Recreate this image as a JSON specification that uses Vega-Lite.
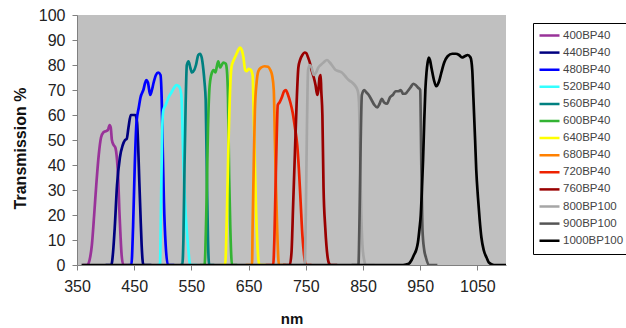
{
"$schema": "https://vega.github.io/schema/vega-lite/v6.json",
"width": 429, "height": 250,
"autosize": {"type": "none"},
"padding": {"left": 77, "top": 15, "right": 120, "bottom": 63},
"background": "white",
"config": {"view": {"fill": "#c0c0c0", "stroke": null}, "font": "Liberation Sans"},
"data": {"values": [
{"s":"400BP40","nm":360,"t":0},{"s":"400BP40","nm":368,"t":0},{"s":"400BP40","nm":372,"t":2},{"s":"400BP40","nm":376,"t":8},{"s":"400BP40","nm":380,"t":20},{"s":"400BP40","nm":384,"t":33},{"s":"400BP40","nm":388,"t":44},{"s":"400BP40","nm":392,"t":51},{"s":"400BP40","nm":396,"t":53},{"s":"400BP40","nm":400,"t":53.5},{"s":"400BP40","nm":404,"t":54},{"s":"400BP40","nm":407,"t":56},{"s":"400BP40","nm":409,"t":55},{"s":"400BP40","nm":411,"t":50},{"s":"400BP40","nm":414,"t":48},{"s":"400BP40","nm":417,"t":47},{"s":"400BP40","nm":420,"t":42},{"s":"400BP40","nm":422,"t":35},{"s":"400BP40","nm":424,"t":22},{"s":"400BP40","nm":426,"t":12},{"s":"400BP40","nm":428,"t":4},{"s":"400BP40","nm":431,"t":0},{"s":"400BP40","nm":440,"t":0},
{"s":"440BP40","nm":400,"t":0},{"s":"440BP40","nm":410,"t":0},{"s":"440BP40","nm":413,"t":5},{"s":"440BP40","nm":416,"t":15},{"s":"440BP40","nm":420,"t":32},{"s":"440BP40","nm":425,"t":43},{"s":"440BP40","nm":430,"t":48},{"s":"440BP40","nm":434,"t":50},{"s":"440BP40","nm":437,"t":50.5},{"s":"440BP40","nm":440,"t":55},{"s":"440BP40","nm":444,"t":60},{"s":"440BP40","nm":448,"t":60},{"s":"440BP40","nm":452,"t":60},{"s":"440BP40","nm":455,"t":57},{"s":"440BP40","nm":457,"t":47},{"s":"440BP40","nm":459,"t":33},{"s":"440BP40","nm":461,"t":20},{"s":"440BP40","nm":463,"t":8},{"s":"440BP40","nm":466,"t":0},{"s":"440BP40","nm":480,"t":0},
{"s":"480BP40","nm":440,"t":0},{"s":"480BP40","nm":445,"t":0},{"s":"480BP40","nm":448,"t":15},{"s":"480BP40","nm":451,"t":40},{"s":"480BP40","nm":454,"t":57},{"s":"480BP40","nm":458,"t":63},{"s":"480BP40","nm":461,"t":67},{"s":"480BP40","nm":466,"t":70},{"s":"480BP40","nm":471,"t":74},{"s":"480BP40","nm":474,"t":73},{"s":"480BP40","nm":478,"t":68},{"s":"480BP40","nm":481,"t":70},{"s":"480BP40","nm":484,"t":73},{"s":"480BP40","nm":488,"t":76},{"s":"480BP40","nm":492,"t":77},{"s":"480BP40","nm":496,"t":76},{"s":"480BP40","nm":498,"t":67},{"s":"480BP40","nm":500,"t":45},{"s":"480BP40","nm":502,"t":25},{"s":"480BP40","nm":505,"t":8},{"s":"480BP40","nm":509,"t":0},{"s":"480BP40","nm":520,"t":0},
{"s":"520BP40","nm":490,"t":0},{"s":"520BP40","nm":495,"t":0},{"s":"520BP40","nm":497,"t":25},{"s":"520BP40","nm":499,"t":55},{"s":"520BP40","nm":501,"t":62},{"s":"520BP40","nm":505,"t":64},{"s":"520BP40","nm":510,"t":67},{"s":"520BP40","nm":515,"t":69},{"s":"520BP40","nm":520,"t":71},{"s":"520BP40","nm":524,"t":72},{"s":"520BP40","nm":528,"t":71.5},{"s":"520BP40","nm":531,"t":70},{"s":"520BP40","nm":533,"t":66},{"s":"520BP40","nm":535,"t":50},{"s":"520BP40","nm":537,"t":35},{"s":"520BP40","nm":540,"t":20},{"s":"520BP40","nm":544,"t":8},{"s":"520BP40","nm":548,"t":0},{"s":"520BP40","nm":560,"t":0},
{"s":"560BP40","nm":530,"t":0},{"s":"560BP40","nm":534,"t":0},{"s":"560BP40","nm":536,"t":10},{"s":"560BP40","nm":538,"t":40},{"s":"560BP40","nm":540,"t":65},{"s":"560BP40","nm":542,"t":80},{"s":"560BP40","nm":545,"t":81.5},{"s":"560BP40","nm":548,"t":79},{"s":"560BP40","nm":551,"t":77},{"s":"560BP40","nm":555,"t":78},{"s":"560BP40","nm":558,"t":80},{"s":"560BP40","nm":562,"t":84},{"s":"560BP40","nm":565,"t":84.5},{"s":"560BP40","nm":568,"t":83},{"s":"560BP40","nm":571,"t":78},{"s":"560BP40","nm":573,"t":73},{"s":"560BP40","nm":575,"t":66},{"s":"560BP40","nm":577,"t":36},{"s":"560BP40","nm":579,"t":10},{"s":"560BP40","nm":581,"t":0},{"s":"560BP40","nm":590,"t":0},
{"s":"600BP40","nm":565,"t":0},{"s":"600BP40","nm":573,"t":0},{"s":"600BP40","nm":576,"t":20},{"s":"600BP40","nm":579,"t":55},{"s":"600BP40","nm":582,"t":72},{"s":"600BP40","nm":586,"t":77},{"s":"600BP40","nm":589,"t":78},{"s":"600BP40","nm":592,"t":77},{"s":"600BP40","nm":595,"t":80},{"s":"600BP40","nm":597,"t":81.5},{"s":"600BP40","nm":600,"t":79},{"s":"600BP40","nm":603,"t":80},{"s":"600BP40","nm":606,"t":81},{"s":"600BP40","nm":610,"t":80.5},{"s":"600BP40","nm":612,"t":78},{"s":"600BP40","nm":614,"t":67},{"s":"600BP40","nm":616,"t":35},{"s":"600BP40","nm":618,"t":15},{"s":"600BP40","nm":621,"t":0},{"s":"600BP40","nm":630,"t":0},
{"s":"640BP40","nm":600,"t":0},{"s":"640BP40","nm":609,"t":0},{"s":"640BP40","nm":612,"t":20},{"s":"640BP40","nm":615,"t":50},{"s":"640BP40","nm":618,"t":72},{"s":"640BP40","nm":620,"t":79},{"s":"640BP40","nm":624,"t":82},{"s":"640BP40","nm":628,"t":84},{"s":"640BP40","nm":632,"t":86},{"s":"640BP40","nm":635,"t":87},{"s":"640BP40","nm":638,"t":86},{"s":"640BP40","nm":641,"t":83},{"s":"640BP40","nm":644,"t":78},{"s":"640BP40","nm":647,"t":77.5},{"s":"640BP40","nm":650,"t":78.5},{"s":"640BP40","nm":654,"t":78},{"s":"640BP40","nm":657,"t":76},{"s":"640BP40","nm":659,"t":60},{"s":"640BP40","nm":661,"t":40},{"s":"640BP40","nm":663,"t":22},{"s":"640BP40","nm":665,"t":10},{"s":"640BP40","nm":669,"t":0},{"s":"640BP40","nm":680,"t":0},
{"s":"680BP40","nm":645,"t":0},{"s":"680BP40","nm":656,"t":0},{"s":"680BP40","nm":657,"t":15},{"s":"680BP40","nm":659,"t":40},{"s":"680BP40","nm":661,"t":62},{"s":"680BP40","nm":664,"t":73},{"s":"680BP40","nm":667,"t":77.5},{"s":"680BP40","nm":672,"t":79},{"s":"680BP40","nm":678,"t":79.5},{"s":"680BP40","nm":684,"t":79.3},{"s":"680BP40","nm":688,"t":78},{"s":"680BP40","nm":691,"t":76},{"s":"680BP40","nm":694,"t":70},{"s":"680BP40","nm":696,"t":50},{"s":"680BP40","nm":698,"t":30},{"s":"680BP40","nm":700,"t":14},{"s":"680BP40","nm":703,"t":0},{"s":"680BP40","nm":715,"t":0},
{"s":"720BP40","nm":680,"t":0},{"s":"720BP40","nm":693,"t":0},{"s":"720BP40","nm":695,"t":10},{"s":"720BP40","nm":697,"t":30},{"s":"720BP40","nm":699,"t":50},{"s":"720BP40","nm":701,"t":64},{"s":"720BP40","nm":704,"t":65},{"s":"720BP40","nm":708,"t":67},{"s":"720BP40","nm":712,"t":69.5},{"s":"720BP40","nm":715,"t":70},{"s":"720BP40","nm":719,"t":68},{"s":"720BP40","nm":723,"t":65},{"s":"720BP40","nm":727,"t":61},{"s":"720BP40","nm":731,"t":55},{"s":"720BP40","nm":735,"t":48},{"s":"720BP40","nm":738,"t":38},{"s":"720BP40","nm":741,"t":25},{"s":"720BP40","nm":744,"t":12},{"s":"720BP40","nm":747,"t":4},{"s":"720BP40","nm":750,"t":0},{"s":"720BP40","nm":760,"t":0},
{"s":"760BP40","nm":710,"t":0},{"s":"760BP40","nm":722,"t":0},{"s":"760BP40","nm":725,"t":5},{"s":"760BP40","nm":728,"t":25},{"s":"760BP40","nm":731,"t":45},{"s":"760BP40","nm":734,"t":65},{"s":"760BP40","nm":737,"t":79},{"s":"760BP40","nm":740,"t":82},{"s":"760BP40","nm":744,"t":84},{"s":"760BP40","nm":748,"t":85},{"s":"760BP40","nm":751,"t":84.7},{"s":"760BP40","nm":754,"t":83},{"s":"760BP40","nm":757,"t":81},{"s":"760BP40","nm":760,"t":78},{"s":"760BP40","nm":764,"t":75},{"s":"760BP40","nm":767,"t":72},{"s":"760BP40","nm":770,"t":68},{"s":"760BP40","nm":772,"t":70},{"s":"760BP40","nm":774,"t":75},{"s":"760BP40","nm":776,"t":76},{"s":"760BP40","nm":777,"t":70},{"s":"760BP40","nm":779,"t":60},{"s":"760BP40","nm":781,"t":31},{"s":"760BP40","nm":784,"t":15},{"s":"760BP40","nm":786,"t":8},{"s":"760BP40","nm":790,"t":1},{"s":"760BP40","nm":793,"t":0},{"s":"760BP40","nm":805,"t":0},
{"s":"800BP100","nm":740,"t":0},{"s":"800BP100","nm":748,"t":0},{"s":"800BP100","nm":750,"t":20},{"s":"800BP100","nm":752,"t":55},{"s":"800BP100","nm":754,"t":78},{"s":"800BP100","nm":757,"t":80},{"s":"800BP100","nm":760,"t":79},{"s":"800BP100","nm":764,"t":76},{"s":"800BP100","nm":768,"t":77},{"s":"800BP100","nm":772,"t":79},{"s":"800BP100","nm":776,"t":80},{"s":"800BP100","nm":781,"t":81},{"s":"800BP100","nm":787,"t":82},{"s":"800BP100","nm":792,"t":81},{"s":"800BP100","nm":797,"t":79.5},{"s":"800BP100","nm":802,"t":78},{"s":"800BP100","nm":808,"t":77.5},{"s":"800BP100","nm":813,"t":77},{"s":"800BP100","nm":819,"t":75.5},{"s":"800BP100","nm":825,"t":74},{"s":"800BP100","nm":831,"t":73},{"s":"800BP100","nm":837,"t":71.5},{"s":"800BP100","nm":841,"t":69.5},{"s":"800BP100","nm":843,"t":65},{"s":"800BP100","nm":845,"t":40},{"s":"800BP100","nm":847,"t":20},{"s":"800BP100","nm":849,"t":8},{"s":"800BP100","nm":852,"t":2},{"s":"800BP100","nm":855,"t":0},{"s":"800BP100","nm":870,"t":0},
{"s":"900BP100","nm":830,"t":0},{"s":"900BP100","nm":842,"t":0},{"s":"900BP100","nm":844,"t":20},{"s":"900BP100","nm":846,"t":50},{"s":"900BP100","nm":848,"t":68},{"s":"900BP100","nm":852,"t":70},{"s":"900BP100","nm":856,"t":69},{"s":"900BP100","nm":860,"t":68},{"s":"900BP100","nm":865,"t":66},{"s":"900BP100","nm":870,"t":64},{"s":"900BP100","nm":875,"t":63},{"s":"900BP100","nm":879,"t":64.5},{"s":"900BP100","nm":883,"t":66.5},{"s":"900BP100","nm":887,"t":65},{"s":"900BP100","nm":892,"t":64.5},{"s":"900BP100","nm":897,"t":67},{"s":"900BP100","nm":902,"t":68},{"s":"900BP100","nm":907,"t":69.5},{"s":"900BP100","nm":912,"t":69.5},{"s":"900BP100","nm":916,"t":70},{"s":"900BP100","nm":920,"t":68.5},{"s":"900BP100","nm":924,"t":68.5},{"s":"900BP100","nm":928,"t":69.5},{"s":"900BP100","nm":933,"t":71},{"s":"900BP100","nm":938,"t":72.5},{"s":"900BP100","nm":942,"t":72},{"s":"900BP100","nm":946,"t":71},{"s":"900BP100","nm":950,"t":70},{"s":"900BP100","nm":952,"t":40},{"s":"900BP100","nm":954,"t":14},{"s":"900BP100","nm":957,"t":6},{"s":"900BP100","nm":960,"t":3},{"s":"900BP100","nm":965,"t":0},{"s":"900BP100","nm":980,"t":0},
{"s":"1000BP100","nm":358,"t":0},{"s":"1000BP100","nm":920,"t":0},{"s":"1000BP100","nm":930,"t":0.5},{"s":"1000BP100","nm":935,"t":2},{"s":"1000BP100","nm":939,"t":4},{"s":"1000BP100","nm":943,"t":6},{"s":"1000BP100","nm":946,"t":9},{"s":"1000BP100","nm":949,"t":15},{"s":"1000BP100","nm":951,"t":20},{"s":"1000BP100","nm":953,"t":30},{"s":"1000BP100","nm":955,"t":42},{"s":"1000BP100","nm":957,"t":57},{"s":"1000BP100","nm":959,"t":70},{"s":"1000BP100","nm":961,"t":77},{"s":"1000BP100","nm":963,"t":81},{"s":"1000BP100","nm":965,"t":83},{"s":"1000BP100","nm":967,"t":82},{"s":"1000BP100","nm":970,"t":78.5},{"s":"1000BP100","nm":974,"t":74},{"s":"1000BP100","nm":978,"t":71.5},{"s":"1000BP100","nm":983,"t":73.5},{"s":"1000BP100","nm":987,"t":77},{"s":"1000BP100","nm":992,"t":81},{"s":"1000BP100","nm":998,"t":83.5},{"s":"1000BP100","nm":1006,"t":84.5},{"s":"1000BP100","nm":1012,"t":84.5},{"s":"1000BP100","nm":1018,"t":84},{"s":"1000BP100","nm":1023,"t":83},{"s":"1000BP100","nm":1028,"t":83.5},{"s":"1000BP100","nm":1033,"t":84},{"s":"1000BP100","nm":1038,"t":83},{"s":"1000BP100","nm":1041,"t":78},{"s":"1000BP100","nm":1043,"t":67},{"s":"1000BP100","nm":1046,"t":50},{"s":"1000BP100","nm":1048,"t":38},{"s":"1000BP100","nm":1051,"t":27},{"s":"1000BP100","nm":1054,"t":18},{"s":"1000BP100","nm":1057,"t":11},{"s":"1000BP100","nm":1061,"t":6},{"s":"1000BP100","nm":1066,"t":3},{"s":"1000BP100","nm":1070,"t":1},{"s":"1000BP100","nm":1079,"t":0},{"s":"1000BP100","nm":1100,"t":0}
]},
"mark": {"type": "line", "strokeWidth": 2.7, "clip": true, "interpolate": "monotone"},
"encoding": {
  "x": {"field": "nm", "type": "quantitative",
        "scale": {"domain": [350, 1100], "nice": false, "zero": false},
        "axis": {"values": [350,450,550,650,750,850,950,1050], "format": "d", "grid": false, "tickSize": 5, "labelPadding": 8, "labelFontSize": 16, "labelColor": "#222", "labelFlush": false, "labelOverlap": false, "domainColor": "#808080", "tickColor": "#808080",
                 "title": "nm", "titleFontSize": 15, "titleFontWeight": "bold", "titleColor": "#111", "titleX": 214.5, "titleY": 58, "titleAlign": "center", "titleBaseline": "alphabetic"}},
  "y": {"field": "t", "type": "quantitative",
        "scale": {"domain": [0, 100], "nice": false},
        "axis": {"values": [0,10,20,30,40,50,60,70,80,90,100], "grid": false, "tickSize": 5, "labelPadding": 7, "labelFontSize": 16, "labelColor": "#222", "domainColor": "#808080", "tickColor": "#808080",
                 "title": "Transmission %", "titleFontSize": 16, "titleFontWeight": "bold", "titleColor": "#111", "titleX": -52, "titleY": 133, "titleAlign": "center", "titleBaseline": "alphabetic", "titleAngle": -90}},
  "color": {"field": "s", "type": "nominal",
        "scale": {"domain": ["400BP40","440BP40","480BP40","520BP40","560BP40","600BP40","640BP40","680BP40","720BP40","760BP40","800BP100","900BP100","1000BP100"],
                  "range": ["#993399","#000080","#0000ff","#33ffff","#008080","#33b333","#ffff00","#ff8000","#ee2200","#990000","#a6a6a6","#555555","#000000"]},
        "legend": {"orient": "none", "legendX": 456, "legendY": 8, "direction": "vertical", "title": null,
                   "symbolType": "stroke", "symbolSize": 400, "symbolStrokeWidth": 2.5, "clipHeight": 15, "rowPadding": 2.1,
                   "labelFontSize": 11.5, "labelColor": "#444", "labelOffset": 2, "padding": 5,
                   "strokeColor": "black", "fillColor": "white"}}
}
}
